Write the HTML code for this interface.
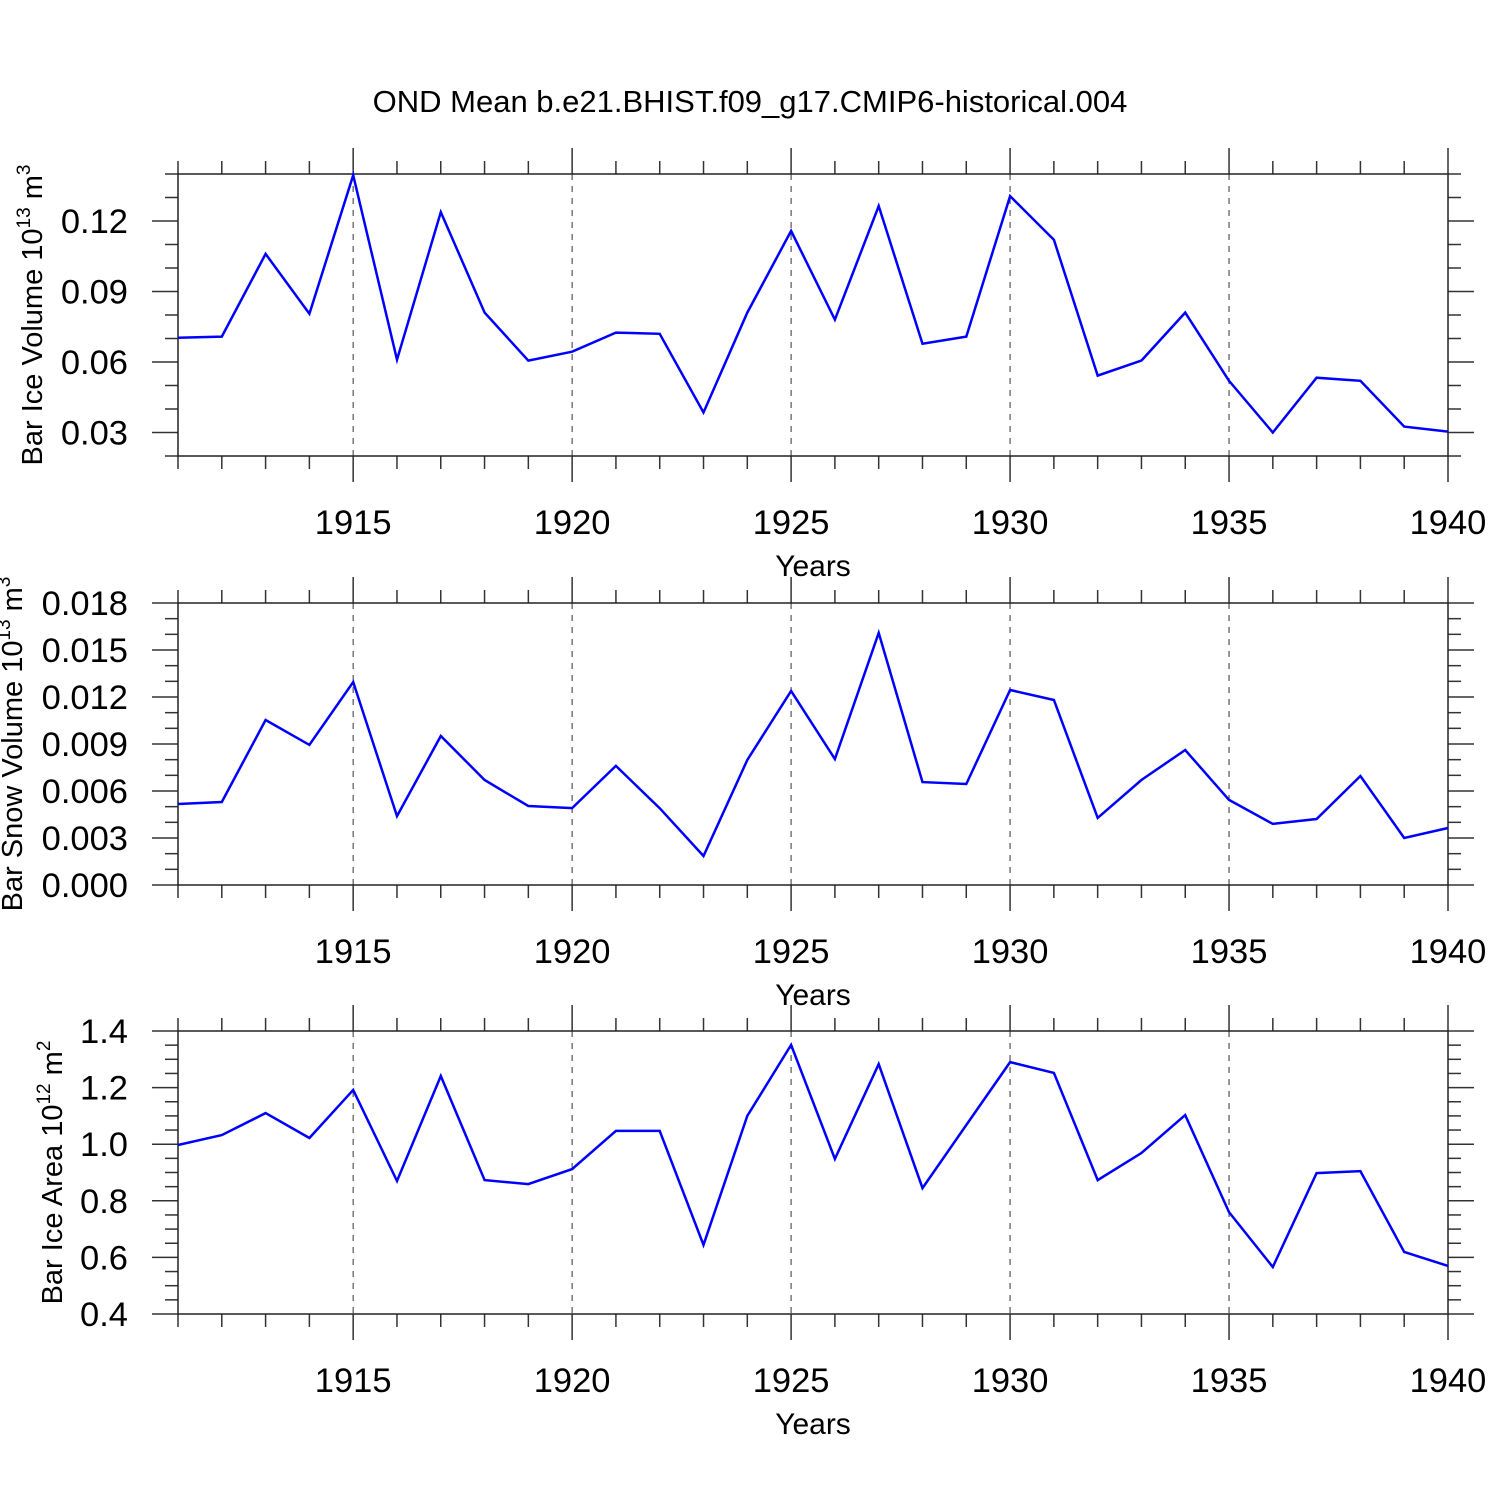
<!DOCTYPE html>
<html><head><meta charset="utf-8">
<style>
html,body{margin:0;padding:0;background:#fff;}
svg{display:block;font-family:"Liberation Sans",sans-serif;}
</style></head>
<body>
<svg id="chart" width="1500" height="1500" viewBox="0 0 1500 1500" xmlns="http://www.w3.org/2000/svg">
<rect width="1500" height="1500" fill="#fff"/>
<text x="750" y="112" font-size="31" text-anchor="middle">OND Mean b.e21.BHIST.f09_g17.CMIP6-historical.004</text>
</svg>
<script>
const years = [1911,1912,1913,1914,1915,1916,1917,1918,1919,1920,1921,1922,1923,1924,1925,1926,1927,1928,1929,1930,1931,1932,1933,1934,1935,1936,1937,1938,1939,1940];
const iceVolume = [0.0703,0.0708,0.106,0.0805,0.1395,0.061,0.1238,0.081,0.0606,0.0644,0.0725,0.072,0.0385,0.081,0.1158,0.078,0.1264,0.0678,0.0708,0.1306,0.112,0.0542,0.0606,0.081,0.052,0.030,0.0533,0.052,0.0325,0.0304];
const snowVolume = [0.00517,0.0053,0.01053,0.00894,0.01296,0.0044,0.00951,0.0067,0.00504,0.00491,0.0076,0.0049,0.00185,0.00798,0.01238,0.00804,0.01609,0.00657,0.00645,0.01245,0.01181,0.00428,0.0067,0.00862,0.00543,0.0039,0.00421,0.00696,0.003,0.00364];
const iceArea = [0.997,1.032,1.110,1.022,1.192,0.870,1.241,0.873,0.859,0.912,1.047,1.047,0.644,1.100,1.351,0.948,1.283,0.845,1.068,1.290,1.252,0.873,0.969,1.103,0.760,0.566,0.898,0.905,0.619,0.570];
const xTickLabels = ["1915","1920","1925","1930","1935","1940"];
const yTicks1 = ["0.03","0.06","0.09","0.12"];
const yTicks2 = ["0.000","0.003","0.006","0.009","0.012","0.015","0.018"];
const yTicks3 = ["0.4","0.6","0.8","1.0","1.2","1.4"];

const NS="http://www.w3.org/2000/svg";
const svg=document.getElementById('chart');
const X0=178,X1=1448,YMIN=1911,YMAX=1940;
function xs(y){return X0+(y-YMIN)/(YMAX-YMIN)*(X1-X0);}
function mk(tag,attrs,parent){const e=document.createElementNS(NS,tag);for(const k in attrs)e.setAttribute(k,attrs[k]);(parent||svg).appendChild(e);return e;}

const panels=[
 {top:174,bot:456,vmin:0.02,vmax:0.14,ticks:yTicks1,minor:0.01,data:iceVolume,title:"Bar Ice Volume 10",sup:"13",unit:" m",usup:"3",tx:32,name:"ice-volume"},
 {top:603,bot:885,vmin:0,vmax:0.018,ticks:yTicks2,minor:0.001,data:snowVolume,title:"Bar Snow Volume 10",sup:"13",unit:" m",usup:"3",tx:12,name:"snow-volume"},
 {top:1031,bot:1314,vmin:0.4,vmax:1.4,ticks:yTicks3,minor:0.05,data:iceArea,title:"Bar Ice Area 10",sup:"12",unit:" m",usup:"2",tx:52,name:"ice-area"}
];

panels.forEach(p=>{
 const g=mk('g',{});
 
 
 const ys=v=>p.bot-(v-p.vmin)/(p.vmax-p.vmin)*(p.bot-p.top);
 for(let yr=1915;yr<1940;yr+=5){
  const gl=mk('line',{x1:xs(yr),x2:xs(yr),y1:p.top,y2:p.bot,stroke:'#555','stroke-width':1.2,'stroke-dasharray':'6,6'},g);
  
  
 }
 for(let yr=YMIN;yr<=YMAX;yr++){
  const maj=yr%5===0, L=maj?26:13, x=xs(yr);
  mk('line',{x1:x,x2:x,y1:p.top-L,y2:p.top,stroke:'#333','stroke-width':1.5},g);
  mk('line',{x1:x,x2:x,y1:p.bot,y2:p.bot+(maj?26:13),stroke:'#333','stroke-width':1.5},g);
 }
 const nMin=Math.round((p.vmax-p.vmin)/p.minor);
 const majors=p.ticks.map(Number);
 for(let i=0;i<=nMin;i++){
  const v=p.vmin+i*p.minor, y=ys(v);
  const maj=majors.some(m=>Math.abs(m-v)<p.minor/10);
  const L=maj?26:13;
  mk('line',{x1:X0-L,x2:X0,y1:y,y2:y,stroke:'#333','stroke-width':1.5},g);
  mk('line',{x1:X1,x2:X1+L,y1:y,y2:y,stroke:'#333','stroke-width':1.5},g);
 }
 const fr=mk('rect',{x:X0,y:p.top,width:X1-X0,height:p.bot-p.top,fill:'none',stroke:'#222','stroke-width':1.5},g);
 
 
 p.ticks.forEach(t=>{
  const tl=mk('text',{x:128,y:ys(Number(t))+12,'font-size':34.5,'text-anchor':'end'},g);
  tl.textContent=t;
  
  
 });
 xTickLabels.forEach(t=>{
  const tl=mk('text',{x:xs(Number(t)),y:p.bot+78,'font-size':34.5,'text-anchor':'middle'},g);
  tl.textContent=t;
  
  
 });
 const xt=mk('text',{x:813,y:p.bot+120,'font-size':30,'text-anchor':'middle'},g);
 xt.textContent='Years';
 
 
 const cy=(p.top+p.bot)/2;
 const yt=mk('text',{x:0,y:0,'font-size':29,'text-anchor':'middle',transform:`translate(${p.tx+10},${cy}) rotate(-90)`},g);
 
 
 yt.appendChild(document.createTextNode(p.title));
 const s1=mk('tspan',{dy:-12,'font-size':19},yt);s1.textContent=p.sup;
 const s2=mk('tspan',{dy:12},yt);s2.textContent=p.unit;
 const s3=mk('tspan',{dy:-12,'font-size':19},yt);s3.textContent=p.usup;
 const pts=years.map((yr,i)=>xs(yr).toFixed(1)+','+ys(p.data[i]).toFixed(1)).join(' ');
 const ln=mk('polyline',{points:pts,fill:'none',stroke:'#0000ff','stroke-width':2.5,'stroke-linejoin':'miter'},g);
 
 
});
</script>
</body></html>
